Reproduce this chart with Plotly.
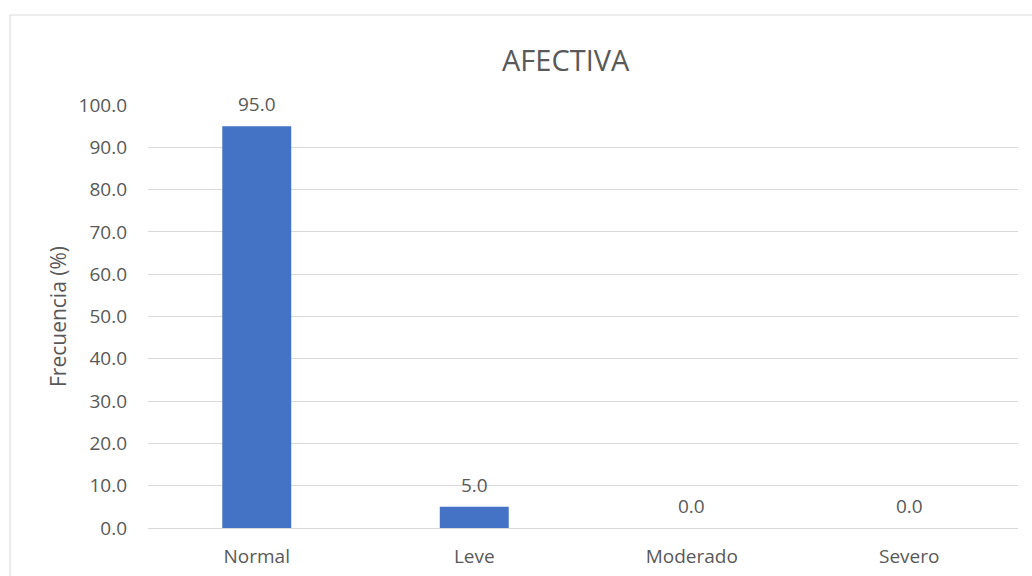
import plotly.graph_objects as go

categories = ["Normal", "Leve", "Moderado", "Severo"]
values = [95.0, 5.0, 0.0, 0.0]
y_ticks = [0, 10, 20, 30, 40, 50, 60, 70, 80, 90, 100]
title_text = "AFECTIVA"
y_title = "Frecuencia (%)"

FONT = "Open Sans, Noto Sans, sans-serif"
GRAY = "#595959"

L, R, T, B = 148, 14, 105, 48
W, H = 1032, 576
pw = W - L - R
ph = H - T - B

fig = go.Figure(go.Bar(
    x=categories, y=values,
    marker=dict(color="#4472C4", line=dict(width=0)),
))

label_annotations = [
    dict(x=c, y=v, xref="x", yref="y", text=f"{v:.1f}", showarrow=False,
         xanchor="center", yanchor="bottom", yshift=7,
         font=dict(size=19, color=GRAY, family=FONT))
    for c, v in zip(categories, values)
]

fig.update_layout(
    width=W, height=H,
    margin=dict(l=L, r=R, t=T, b=B),
    paper_bgcolor="white", plot_bgcolor="white",
    bargap=0.683, showlegend=False,
    font=dict(family=FONT, color=GRAY),
    xaxis=dict(showgrid=False, showline=True, linecolor="#d9d9d9", linewidth=1,
               automargin=False,
               ticks="", tickfont=dict(size=19, color=GRAY), ticklabelstandoff=11),
    yaxis=dict(range=[0, 100], tickvals=y_ticks, tickformat=".1f", automargin=False,
               showgrid=True, gridcolor="#d9d9d9", gridwidth=1, zeroline=False,
               ticks="", tickfont=dict(size=19, color=GRAY), ticklabelstandoff=20,
               title=dict(text=y_title, font=dict(size=21, color=GRAY), standoff=6)),
    shapes=[dict(type="rect", xref="paper", yref="paper",
                 x0=(10 - L) / pw, x1=1.2, y0=-0.3, y1=(H - B - 15) / ph,
                 line=dict(color="#d9d9d9", width=1), fillcolor="rgba(0,0,0,0)", layer="below")],
    annotations=label_annotations + [dict(text=title_text, xref="paper", yref="paper",
                      x=(566 - L) / pw, y=(H - B - 60) / ph, xanchor="center", yanchor="middle",
                      showarrow=False, font=dict(size=29, color=GRAY, family=FONT))],
)

fig.write_html("out.html")
